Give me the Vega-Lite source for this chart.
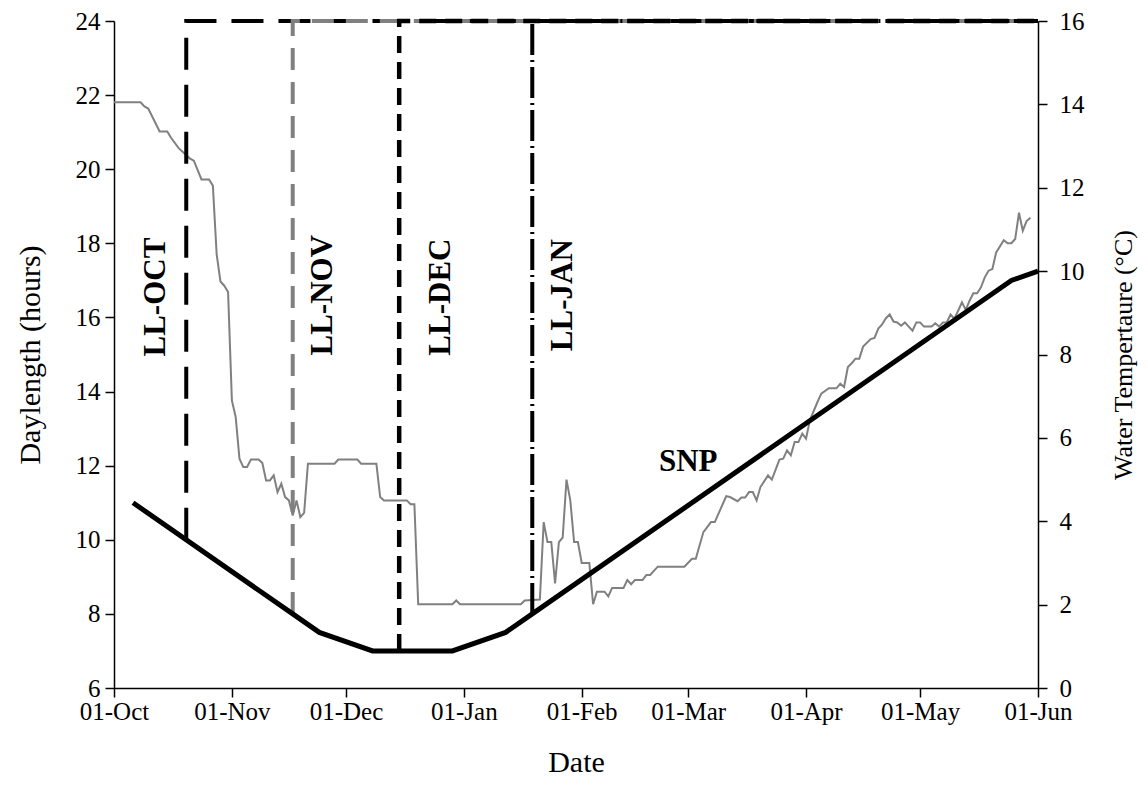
{
  "$schema": "https://vega.github.io/schema/vega-lite/v6.json",
  "width": 924,
  "height": 667,
  "autosize": {"type": "none"},
  "padding": {"left": 114, "top": 21, "right": 110, "bottom": 110},
  "background": "white",
  "config": {
    "view": {"stroke": null},
    "font": "Liberation Serif",
    "axis": {
      "domainColor": "black", "tickColor": "black", "labelColor": "black", "titleColor": "black",
      "grid": false, "labelFont": "Liberation Serif", "titleFont": "Liberation Serif",
      "labelFontSize": 25, "titleFontWeight": "normal", "titleFontSize": 30,
      "tickSize": 9, "domainWidth": 1.5, "tickWidth": 1.5
    }
  },
  "datasets": {
    "temp": [
      {"date": "2005-10-01", "temp": 14.05}, {"date": "2005-10-08", "temp": 14.05}, {"date": "2005-10-09", "temp": 13.95},
      {"date": "2005-10-10", "temp": 13.9}, {"date": "2005-10-13", "temp": 13.35}, {"date": "2005-10-15", "temp": 13.35},
      {"date": "2005-10-16", "temp": 13.2}, {"date": "2005-10-18", "temp": 12.95}, {"date": "2005-10-21", "temp": 12.7},
      {"date": "2005-10-22", "temp": 12.65}, {"date": "2005-10-24", "temp": 12.2}, {"date": "2005-10-26", "temp": 12.2},
      {"date": "2005-10-27", "temp": 12.05}, {"date": "2005-10-28", "temp": 10.4}, {"date": "2005-10-29", "temp": 9.75},
      {"date": "2005-10-30", "temp": 9.65}, {"date": "2005-10-31", "temp": 9.5}, {"date": "2005-11-01", "temp": 6.9},
      {"date": "2005-11-02", "temp": 6.5}, {"date": "2005-11-03", "temp": 5.5}, {"date": "2005-11-04", "temp": 5.3},
      {"date": "2005-11-05", "temp": 5.3}, {"date": "2005-11-06", "temp": 5.48}, {"date": "2005-11-08", "temp": 5.48},
      {"date": "2005-11-09", "temp": 5.4}, {"date": "2005-11-10", "temp": 4.98}, {"date": "2005-11-11", "temp": 4.98},
      {"date": "2005-11-12", "temp": 5.1}, {"date": "2005-11-13", "temp": 4.7}, {"date": "2005-11-14", "temp": 4.9},
      {"date": "2005-11-15", "temp": 4.58}, {"date": "2005-11-16", "temp": 4.5}, {"date": "2005-11-17", "temp": 4.14},
      {"date": "2005-11-18", "temp": 4.5}, {"date": "2005-11-19", "temp": 4.1}, {"date": "2005-11-20", "temp": 4.2},
      {"date": "2005-11-21", "temp": 5.38}, {"date": "2005-11-28", "temp": 5.38}, {"date": "2005-11-29", "temp": 5.48},
      {"date": "2005-12-04", "temp": 5.48}, {"date": "2005-12-05", "temp": 5.38}, {"date": "2005-12-09", "temp": 5.38},
      {"date": "2005-12-10", "temp": 4.58}, {"date": "2005-12-11", "temp": 4.5}, {"date": "2005-12-17", "temp": 4.5},
      {"date": "2005-12-18", "temp": 4.41}, {"date": "2005-12-19", "temp": 4.41}, {"date": "2005-12-20", "temp": 2.01},
      {"date": "2005-12-29", "temp": 2.01}, {"date": "2005-12-30", "temp": 2.1}, {"date": "2005-12-31", "temp": 2.01},
      {"date": "2006-01-16", "temp": 2.01}, {"date": "2006-01-17", "temp": 2.1}, {"date": "2006-01-21", "temp": 2.12},
      {"date": "2006-01-22", "temp": 3.98}, {"date": "2006-01-23", "temp": 3.5}, {"date": "2006-01-24", "temp": 3.5},
      {"date": "2006-01-25", "temp": 2.51}, {"date": "2006-01-26", "temp": 3.5}, {"date": "2006-01-27", "temp": 3.61},
      {"date": "2006-01-28", "temp": 5.0}, {"date": "2006-01-29", "temp": 4.5}, {"date": "2006-01-30", "temp": 3.5},
      {"date": "2006-01-31", "temp": 3.5}, {"date": "2006-02-01", "temp": 3.0}, {"date": "2006-02-03", "temp": 3.0},
      {"date": "2006-02-04", "temp": 2.01}, {"date": "2006-02-05", "temp": 2.31}, {"date": "2006-02-07", "temp": 2.31},
      {"date": "2006-02-08", "temp": 2.2}, {"date": "2006-02-09", "temp": 2.4}, {"date": "2006-02-12", "temp": 2.4},
      {"date": "2006-02-13", "temp": 2.59}, {"date": "2006-02-14", "temp": 2.49}, {"date": "2006-02-15", "temp": 2.59},
      {"date": "2006-02-17", "temp": 2.59}, {"date": "2006-02-18", "temp": 2.71}, {"date": "2006-02-19", "temp": 2.71},
      {"date": "2006-02-21", "temp": 2.91}, {"date": "2006-02-28", "temp": 2.91}, {"date": "2006-03-02", "temp": 3.1},
      {"date": "2006-03-03", "temp": 3.1}, {"date": "2006-03-05", "temp": 3.74}, {"date": "2006-03-07", "temp": 3.98},
      {"date": "2006-03-08", "temp": 3.98}, {"date": "2006-03-11", "temp": 4.6}, {"date": "2006-03-12", "temp": 4.58},
      {"date": "2006-03-14", "temp": 4.48}, {"date": "2006-03-15", "temp": 4.57}, {"date": "2006-03-16", "temp": 4.57},
      {"date": "2006-03-17", "temp": 4.7}, {"date": "2006-03-18", "temp": 4.7}, {"date": "2006-03-19", "temp": 4.5},
      {"date": "2006-03-20", "temp": 4.82}, {"date": "2006-03-22", "temp": 5.1}, {"date": "2006-03-23", "temp": 5.0},
      {"date": "2006-03-25", "temp": 5.48}, {"date": "2006-03-26", "temp": 5.5}, {"date": "2006-03-27", "temp": 5.7},
      {"date": "2006-03-28", "temp": 5.58}, {"date": "2006-03-29", "temp": 5.9}, {"date": "2006-03-30", "temp": 5.9},
      {"date": "2006-03-31", "temp": 6.1}, {"date": "2006-04-01", "temp": 5.98}, {"date": "2006-04-02", "temp": 6.42},
      {"date": "2006-04-04", "temp": 6.86}, {"date": "2006-04-05", "temp": 7.06}, {"date": "2006-04-07", "temp": 7.19},
      {"date": "2006-04-09", "temp": 7.19}, {"date": "2006-04-10", "temp": 7.3}, {"date": "2006-04-11", "temp": 7.22},
      {"date": "2006-04-12", "temp": 7.7}, {"date": "2006-04-13", "temp": 7.79}, {"date": "2006-04-14", "temp": 7.9},
      {"date": "2006-04-15", "temp": 7.9}, {"date": "2006-04-16", "temp": 8.19}, {"date": "2006-04-18", "temp": 8.37},
      {"date": "2006-04-19", "temp": 8.4}, {"date": "2006-04-20", "temp": 8.62}, {"date": "2006-04-21", "temp": 8.72},
      {"date": "2006-04-22", "temp": 8.87}, {"date": "2006-04-23", "temp": 8.96}, {"date": "2006-04-24", "temp": 8.79},
      {"date": "2006-04-25", "temp": 8.77}, {"date": "2006-04-26", "temp": 8.69}, {"date": "2006-04-27", "temp": 8.77},
      {"date": "2006-04-28", "temp": 8.67}, {"date": "2006-04-29", "temp": 8.57}, {"date": "2006-04-30", "temp": 8.77},
      {"date": "2006-05-01", "temp": 8.77}, {"date": "2006-05-02", "temp": 8.67}, {"date": "2006-05-04", "temp": 8.67},
      {"date": "2006-05-05", "temp": 8.75}, {"date": "2006-05-06", "temp": 8.67}, {"date": "2006-05-07", "temp": 8.77},
      {"date": "2006-05-08", "temp": 8.77}, {"date": "2006-05-09", "temp": 8.96}, {"date": "2006-05-10", "temp": 8.86},
      {"date": "2006-05-11", "temp": 9.05}, {"date": "2006-05-12", "temp": 9.25}, {"date": "2006-05-13", "temp": 9.07},
      {"date": "2006-05-14", "temp": 9.29}, {"date": "2006-05-15", "temp": 9.47}, {"date": "2006-05-16", "temp": 9.47},
      {"date": "2006-05-17", "temp": 9.61}, {"date": "2006-05-18", "temp": 9.85}, {"date": "2006-05-19", "temp": 10.01},
      {"date": "2006-05-20", "temp": 10.05}, {"date": "2006-05-21", "temp": 10.45}, {"date": "2006-05-23", "temp": 10.74},
      {"date": "2006-05-24", "temp": 10.67}, {"date": "2006-05-25", "temp": 10.67}, {"date": "2006-05-26", "temp": 10.77},
      {"date": "2006-05-27", "temp": 11.4}, {"date": "2006-05-28", "temp": 10.97}, {"date": "2006-05-29", "temp": 11.2},
      {"date": "2006-05-30", "temp": 11.28}
    ],
    "snp": [
      {"date": "2005-10-06", "hours": 11.0}, {"date": "2005-11-17", "hours": 8.0}, {"date": "2005-11-24", "hours": 7.5},
      {"date": "2005-12-08", "hours": 7.0}, {"date": "2005-12-29", "hours": 7.0}, {"date": "2006-01-12", "hours": 7.5},
      {"date": "2006-01-19", "hours": 8.0}, {"date": "2006-05-25", "hours": 17.0}, {"date": "2006-06-01", "hours": 17.25}
    ],
    "ll": [
      {"series": "LL-OCT", "date": "2005-10-20", "hours": 10.0}, {"series": "LL-OCT", "date": "2005-10-20", "hours": 24}, {"series": "LL-OCT", "date": "2006-06-01", "hours": 24},
      {"series": "LL-NOV", "date": "2005-11-17", "hours": 8.0}, {"series": "LL-NOV", "date": "2005-11-17", "hours": 24}, {"series": "LL-NOV", "date": "2006-06-01", "hours": 24},
      {"series": "LL-DEC", "date": "2005-12-15", "hours": 7.0}, {"series": "LL-DEC", "date": "2005-12-15", "hours": 24}, {"series": "LL-DEC", "date": "2006-06-01", "hours": 24},
      {"series": "LL-JAN", "date": "2006-01-19", "hours": 8.0}, {"series": "LL-JAN", "date": "2006-01-19", "hours": 24}, {"series": "LL-JAN", "date": "2006-06-01", "hours": 24}
    ],
    "labels": [
      {"label": "LL-OCT", "date": "2005-10-12", "hours": 16.55, "kind": "v"},
      {"label": "LL-NOV", "date": "2005-11-25", "hours": 16.6, "kind": "v"},
      {"label": "LL-DEC", "date": "2005-12-26", "hours": 16.55, "kind": "v"},
      {"label": "LL-JAN", "date": "2006-01-27", "hours": 16.6, "kind": "v"},
      {"label": "SNP", "date": "2006-03-01", "hours": 12.1, "kind": "h"}
    ]
  },
  "encoding": {
    "x": {
      "field": "date", "type": "temporal",
      "scale": {"type": "utc", "domain": [{"year": 2005, "month": 10, "date": 1, "utc": true}, {"year": 2006, "month": 6, "date": 1, "utc": true}], "nice": false},
      "axis": {
        "values": [
          {"year": 2005, "month": 10, "date": 1, "utc": true}, {"year": 2005, "month": 11, "date": 1, "utc": true},
          {"year": 2005, "month": 12, "date": 1, "utc": true}, {"year": 2006, "month": 1, "date": 1, "utc": true},
          {"year": 2006, "month": 2, "date": 1, "utc": true}, {"year": 2006, "month": 3, "date": 1, "utc": true},
          {"year": 2006, "month": 4, "date": 1, "utc": true}, {"year": 2006, "month": 5, "date": 1, "utc": true},
          {"year": 2006, "month": 6, "date": 1, "utc": true}
        ],
        "labelExpr": "utcFormat(datum.value, '%d-%b')",
        "title": "Date", "titleX": 462, "titleY": 74, "titleBaseline": "middle", "titleAlign": "center",
        "labelPadding": 2, "labelFlush": false, "labelOverlap": false
      }
    }
  },
  "layer": [
    {
      "data": {"name": "temp"},
      "mark": {"type": "line", "color": "#808080", "strokeWidth": 2},
      "encoding": {
        "y": {
          "field": "temp", "type": "quantitative",
          "scale": {"domain": [0, 16], "nice": false, "zero": false},
          "axis": {
            "orient": "right", "values": [0, 2, 4, 6, 8, 10, 12, 14, 16],
            "title": "Water Tempertaure (°C)", "titleFontSize": 26,
            "titleX": 85, "titleY": 333.5, "titleAngle": 270, "titleAlign": "center", "titleBaseline": "middle",
            "labelPadding": 12, "labelFlush": false
          }
        }
      }
    },
    {
      "encoding": {
        "y": {
          "field": "hours", "type": "quantitative",
          "scale": {"domain": [6, 24], "nice": false, "zero": false},
          "axis": {
            "orient": "left", "values": [6, 8, 10, 12, 14, 16, 18, 20, 22, 24],
            "title": "Daylength (hours)",
            "titleX": -84, "titleY": 333.5, "titleAngle": 270, "titleAlign": "center", "titleBaseline": "middle",
            "labelPadding": 5, "labelFlush": false
          }
        }
      },
      "layer": [
        {
          "data": {"name": "ll"},
          "transform": [{"filter": "datum.series === 'LL-OCT'"}],
          "mark": {"type": "line", "color": "black", "strokeWidth": 4, "strokeDash": [32, 15]}
        },
        {
          "data": {"name": "ll"},
          "transform": [{"filter": "datum.series === 'LL-NOV'"}],
          "mark": {"type": "line", "color": "#808080", "strokeWidth": 4, "strokeDash": [22, 12]}
        },
        {
          "data": {"name": "ll"},
          "transform": [{"filter": "datum.series === 'LL-DEC'"}],
          "mark": {"type": "line", "color": "black", "strokeWidth": 4.5, "strokeDash": [17, 9]}
        },
        {
          "data": {"name": "ll"},
          "transform": [{"filter": "datum.series === 'LL-JAN'"}],
          "mark": {"type": "line", "color": "black", "strokeWidth": 4, "strokeDash": [31, 5, 2, 5]}
        },
        {
          "data": {"name": "snp"},
          "mark": {"type": "line", "color": "black", "strokeWidth": 5}
        },
        {
          "data": {"name": "labels"},
          "transform": [{"filter": "datum.kind === 'v'"}],
          "mark": {"type": "text", "font": "Liberation Serif", "fontWeight": "bold", "fontSize": 31, "angle": 270, "align": "center", "baseline": "middle", "color": "black"},
          "encoding": {"text": {"field": "label"}}
        },
        {
          "data": {"name": "labels"},
          "transform": [{"filter": "datum.kind === 'h'"}],
          "mark": {"type": "text", "font": "Liberation Serif", "fontWeight": "bold", "fontSize": 31, "align": "center", "baseline": "middle", "color": "black"},
          "encoding": {"text": {"field": "label"}}
        }
      ]
    }
  ],
  "resolve": {"scale": {"y": "independent"}}
}
